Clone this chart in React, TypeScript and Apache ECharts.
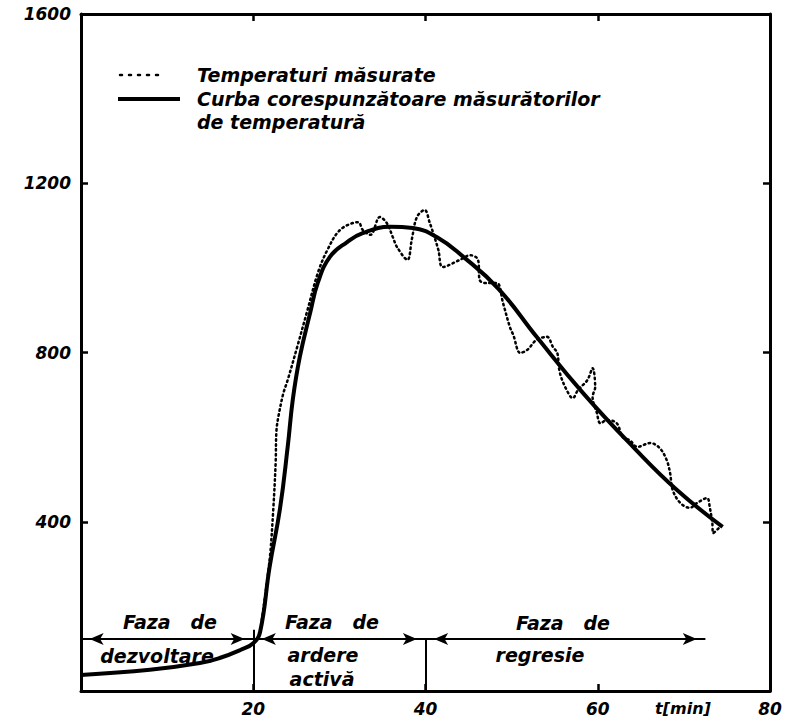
import React, { useEffect, useRef } from "react";
import * as echarts from "echarts";

// ---- data ----
const xTicks = [20, 40, 60, 80];
const yTicks = [400, 800, 1200, 1600];

// measured temperatures (dotted)
const tMeasured = [21.0, 21.9, 22.3, 22.6, 22.7, 23.0, 23.5, 24.0, 25.1, 26.2, 27.5, 28.6, 30.1, 32.2, 32.7, 33.6, 34.7, 35.5, 36.2, 36.7, 37.9, 38.4, 39.0, 39.9, 40.5, 40.9, 41.5, 42.0, 44.0, 45.2, 46.1, 46.3, 47.1, 48.3, 49.0, 49.8, 50.2, 51.0, 51.8, 52.9, 54.1, 54.8, 55.3, 55.6, 56.4, 57.1, 57.7, 58.8, 59.4, 59.7, 59.4, 59.9, 60.3, 61.1, 62.2, 62.9, 63.7, 64.6, 66.1, 67.2, 68.0, 68.4, 68.7, 69.6, 70.7, 71.5, 72.7, 73.0, 73.3, 73.4, 74.2];
const tempMeasured = [168, 310, 421, 539, 617, 657, 704, 735, 813, 893, 988, 1042, 1090, 1108, 1090, 1078, 1120, 1106, 1073, 1049, 1019, 1066, 1120, 1137, 1106, 1082, 1042, 1002, 1019, 1030, 1019, 971, 964, 964, 917, 860, 841, 799, 806, 830, 837, 813, 799, 752, 711, 692, 711, 735, 763, 718, 695, 657, 633, 640, 633, 600, 593, 577, 586, 574, 546, 515, 475, 444, 433, 444, 456, 435, 397, 373, 388];

// fitted curve (solid)
const tFit = [0, 8, 13.8, 16.1, 18.5, 20, 20.8, 21.9, 23.1, 24, 24.6, 25.4, 26.6, 27.5, 28.9, 30.9, 32.7, 35.9, 38.5, 41.3, 44.4, 48.5, 52.9, 58.3, 64.1, 69.2, 74.5];
const tempFit = [38, 50, 66, 78, 97, 113, 140, 293, 430, 577, 690, 789, 893, 965, 1026, 1061, 1082, 1097, 1094, 1073, 1026, 950, 837, 704, 577, 475, 388];

// phases
const phaseBounds = [0, 20, 40, 72.5];
const phaseArrowLevel = 123;
const dividerTops = [145, 125];

const legendLabels = ["Temperaturi măsurate", "Curba corespunzătoare măsurătorilor", "de temperatură"];
const phaseTitle = "Faza   de";
const phaseNames = [["dezvoltare"], ["ardere", "activă"], ["regresie"]];
const xAxisName = "t[min]";

const FONT = "DejaVu Sans";

export default function App() {
  const ref = useRef<HTMLDivElement>(null);
  useEffect(() => {
    if (!ref.current) return;
    const chart = echarts.init(ref.current, null, { renderer: "svg" });

    const axisLine = { show: true, onZero: false, lineStyle: { color: "#000", width: 3 } };
    const axisTick = { show: true, inside: true, length: 7, lineStyle: { color: "#000", width: 2.5 } };
    const labelStyle = {
      color: "#000",
      fontSize: 17,
      fontStyle: "italic" as const,
      fontWeight: "bold" as const,
      fontFamily: FONT,
    };

    const arrowSegs = [];
    for (let i = 0; i < phaseBounds.length - 1; i++) {
      arrowSegs.push([
        { coord: [phaseBounds[i] + 1, phaseArrowLevel] },
        { coord: [phaseBounds[i + 1] - 1, phaseArrowLevel] },
      ]);
    }
    const dividerSegs = dividerTops.map((top, i) => [
      { coord: [phaseBounds[i + 1], 0] },
      { coord: [phaseBounds[i + 1], top] },
    ]);

    const txt = (x: number, y: number, text: string, size = 19, align = "center") => ({
      type: "text",
      x,
      y,
      style: {
        text,
        fill: "#000",
        font: `italic bold ${size}px "${FONT}"`,
        textAlign: align,
        textVerticalAlign: "middle",
      },
      silent: true,
    });

    chart.setOption({
      animation: false,
      backgroundColor: "#fff",
      grid: { left: 81, right: 18, top: 14, bottom: 34 },
      xAxis: [
        {
          type: "value",
          min: 0,
          max: xTicks[xTicks.length - 1],
          interval: 20,
          position: "bottom",
          axisLine,
          axisTick,
          splitLine: { show: false },
          axisLabel: {
            ...labelStyle,
            margin: 9,
            formatter: (v: number) => (xTicks.includes(v) ? String(v) : ""),
          },
        },
        {
          type: "value",
          min: 0,
          max: xTicks[xTicks.length - 1],
          interval: 20,
          position: "top",
          axisLine,
          axisTick,
          splitLine: { show: false },
          axisLabel: { show: false },
        },
      ],
      yAxis: [
        {
          type: "value",
          min: 0,
          max: yTicks[yTicks.length - 1],
          interval: 400,
          position: "left",
          axisLine,
          axisTick,
          splitLine: { show: false },
          axisLabel: {
            ...labelStyle,
            margin: 10,
            formatter: (v: number) => (yTicks.includes(v) ? String(v) : ""),
          },
        },
        {
          type: "value",
          min: 0,
          max: yTicks[yTicks.length - 1],
          interval: 400,
          position: "right",
          axisLine,
          axisTick,
          splitLine: { show: false },
          axisLabel: { show: false },
        },
      ],
      series: [
        {
          name: legendLabels[0],
          type: "line",
          data: tMeasured.map((t, i) => [t, tempMeasured[i]]),
          showSymbol: false,
          smooth: 0.35,
          lineStyle: { color: "#000", width: 2.5, type: [1.5, 3.5], cap: "round" },
          z: 3,
        },
        {
          name: legendLabels[1],
          type: "line",
          data: tFit.map((t, i) => [t, tempFit[i]]),
          showSymbol: false,
          smooth: 0.45,
          lineStyle: { color: "#000", width: 4 },
          z: 4,
        },
        {
          name: "phases",
          type: "line",
          data: [
            [phaseBounds[0], phaseArrowLevel],
            [phaseBounds[phaseBounds.length - 1], phaseArrowLevel],
          ],
          showSymbol: false,
          lineStyle: { color: "#000", width: 2 },
          markLine: {
            silent: true,
            symbol: ["arrow", "arrow"],
            symbolSize: [9, 14],
            label: { show: false },
            lineStyle: { color: "#000", width: 2, type: "solid" },
            data: arrowSegs,
          },
          z: 2,
        },
        {
          name: "dividers",
          type: "line",
          data: [],
          markLine: {
            silent: true,
            symbol: ["none", "none"],
            label: { show: false },
            lineStyle: { color: "#000", width: 2, type: "solid" },
            data: dividerSegs,
          },
        },
      ],
      graphic: [
        {
          type: "line",
          shape: { x1: 120, y1: 75, x2: 160, y2: 75 },
          style: { stroke: "#000", lineWidth: 2.5, lineDash: [2, 7], lineCap: "round" },
          silent: true,
        },
        {
          type: "line",
          shape: { x1: 118, y1: 99, x2: 180, y2: 99 },
          style: { stroke: "#000", lineWidth: 4 },
          silent: true,
        },
        txt(197, 75, legendLabels[0], 19, "left"),
        txt(197, 99, legendLabels[1], 19, "left"),
        txt(197, 122, legendLabels[2], 19, "left"),
        txt(170, 622, phaseTitle),
        txt(157, 656, phaseNames[0][0]),
        txt(332, 622, phaseTitle),
        txt(323, 655, phaseNames[1][0]),
        txt(322, 679, phaseNames[1][1]),
        txt(563, 623, phaseTitle),
        txt(540, 655, phaseNames[2][0]),
        txt(683, 708, xAxisName, 16),
      ],
    });
    return () => chart.dispose();
  }, []);
  return (
    <div
      ref={ref}
      style={{ position: "fixed", left: 0, top: 0, width: 788, height: 725, background: "#fff" }}
    />
  );
}
